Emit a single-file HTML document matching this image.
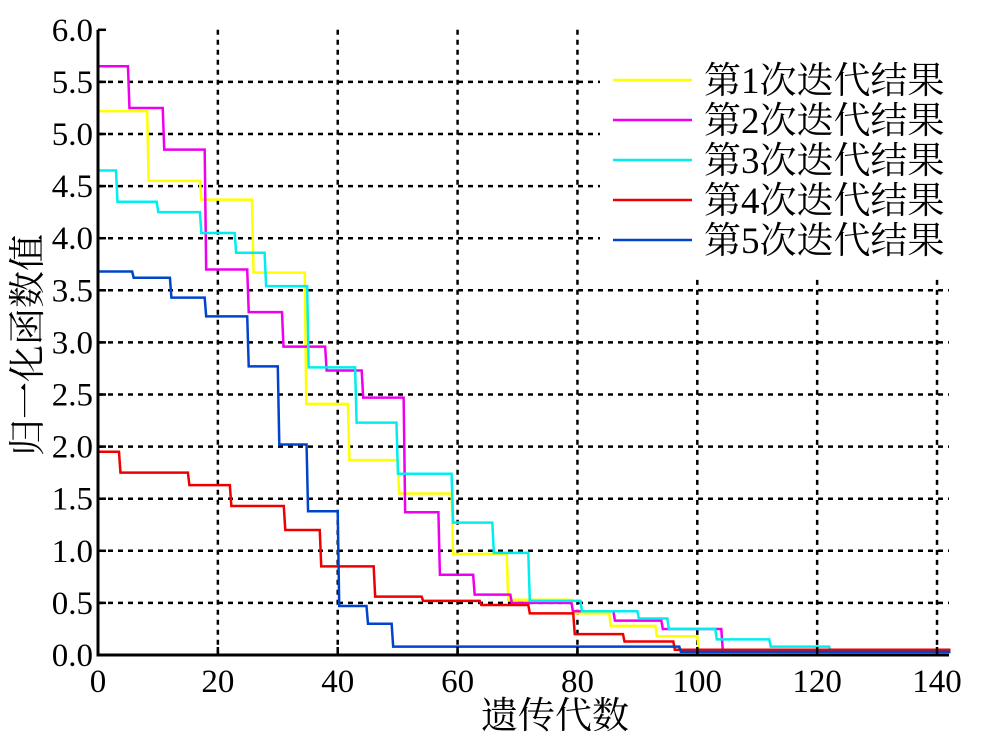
<!DOCTYPE html>
<html><head><meta charset="utf-8"><style>
body{margin:0;background:#fff;}
svg text{font-family:"Liberation Serif","Noto Serif CJK SC",serif;fill:#000;}
</style></head><body>
<svg id="c" width="1000" height="737" xmlns="http://www.w3.org/2000/svg"></svg>
<script>
const xTicks=[0,20,40,60,80,100,120,140];
const yTicks=[0.0,0.5,1.0,1.5,2.0,2.5,3.0,3.5,4.0,4.5,5.0,5.5,6.0];
const seriesNames=["第1次迭代结果","第2次迭代结果","第3次迭代结果","第4次迭代结果","第5次迭代结果"];
const seriesColors=["#ffff00","#ee00ee","#00eeee","#ee0000","#0044cc"];
// step series: [x where level starts, level]
const s1X=[0,8.2,17,25.7,34.5,41.7,50,59,68.2,79,85.3,93,100,113,142];
const s1Y=[5.22,4.55,4.37,3.67,2.41,1.87,1.55,0.97,0.53,0.4,0.28,0.18,0.05,0.02,0.02];
const s2X=[0,5,10.8,17.8,24.9,30.7,37.9,44,51,56.8,62.6,68.8,79,86,94,104,142];
const s2Y=[5.65,5.25,4.85,3.7,3.29,2.96,2.73,2.47,1.37,0.77,0.58,0.5,0.42,0.33,0.25,0.05,0.05];
const s3X=[0,3,9.8,17,22.8,27.8,34.9,42.9,49.8,59,65.8,71.8,80.5,90,95,103,112,122,142];
const s3Y=[4.65,4.35,4.25,4.05,3.86,3.54,2.76,2.23,1.74,1.27,0.98,0.52,0.42,0.35,0.25,0.15,0.08,0.03,0.03];
const s4X=[0,3.5,15,22,31,37,46,54,63.7,71.8,79.3,87.6,96,142];
const s4Y=[1.95,1.75,1.63,1.43,1.2,0.85,0.56,0.52,0.48,0.4,0.2,0.13,0.05,0.05];
const s5X=[0,5.7,12,17.8,24.9,30,34.8,40,44.8,49,97,142];
const s5Y=[3.68,3.62,3.43,3.25,2.77,2.02,1.38,0.47,0.3,0.08,0.03,0.03];
const allX=[s1X,s2X,s3X,s4X,s5X], allY=[s1Y,s2Y,s3Y,s4Y,s5Y];

const NS="http://www.w3.org/2000/svg", svg=document.getElementById('c');
const X0=98,XS=5.993,Y0=655,YS=104.2;
const sx=v=>X0+v*XS, sy=v=>Y0-v*YS;
function mk(t,a,p){const e=document.createElementNS(NS,t);for(const k in a)e.setAttribute(k,a[k]);(p||svg).appendChild(e);return e;}

// grid
yTicks.forEach(v=>{ if(v===0||v===6) return;
  const g=mk('line',{x1:sx(0),x2:(v>=4?600:sx(142)),y1:sy(v),y2:sy(v),stroke:'#000','stroke-width':2.5,'stroke-dasharray':'5,5'});
  
  
});
xTicks.forEach(v=>{ if(v===0) return;
  const g=mk('line',{x1:sx(v),x2:sx(v),y1:(v>=100?sy(3.6):sy(6)),y2:sy(0),stroke:'#000','stroke-width':2.5,'stroke-dasharray':'5,5'});
  
  
});
// series
allX.forEach((xs,i)=>{
  const ys=allY[i]; let d='M'+sx(xs[0])+','+sy(ys[0]);
  for(let k=1;k<xs.length;k++){d+=' L'+sx(xs[k])+','+sy(ys[k-1]);d+=' L'+(sx(xs[k])+1.5)+','+sy(ys[k]);}
  const p=mk('path',{d:d,fill:'none',stroke:seriesColors[i],'stroke-width':2.5});
  
  
});
// axes
const ax=mk('path',{d:`M${sx(0)},${sy(6)} L${sx(0)},${sy(0)} L${sx(142)},${sy(0)}`,fill:'none',stroke:'#000','stroke-width':3});


xTicks.forEach(v=>{
  mk('line',{x1:sx(v),x2:sx(v),y1:sy(0),y2:sy(0)-8,stroke:'#000','stroke-width':2.5});
  const t=mk('text',{x:sx(v),y:692,'font-size':33,'text-anchor':'middle'});t.textContent=v;
  
  
});
yTicks.forEach(v=>{
  mk('line',{x1:sx(0),x2:sx(0)+8,y1:sy(v),y2:sy(v),stroke:'#000','stroke-width':2.5});
  const t=mk('text',{x:93,y:sy(v)+11,'font-size':33,'text-anchor':'end'});t.textContent=v.toFixed(1);
  
  
});
const xl=mk('text',{x:555,y:728,'font-size':37,'text-anchor':'middle'});xl.textContent='遗传代数';


const yl=mk('text',{x:0,y:0,'font-size':37,'text-anchor':'middle',transform:'translate(40,345) rotate(-90)'});yl.textContent='归一化函数值';


// legend
seriesNames.forEach((n,i)=>{
  const y=80+i*40;
  const l=mk('line',{x1:613,x2:692,y1:y,y2:y,stroke:seriesColors[i],'stroke-width':2.5});
  
  
  const t=mk('text',{x:704,y:y+13,'font-size':37});t.textContent=n;
  
  
});
</script>
</body></html>
